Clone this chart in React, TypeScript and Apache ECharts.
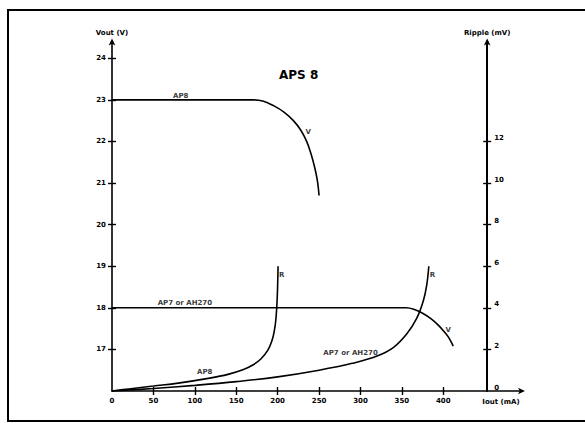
import React, { useEffect, useRef } from "react";
import * as echarts from "echarts";

// Axis tick values
const xTickValues = [0, 50, 100, 150, 200, 250, 300, 350, 400];
const voutTickValues = [17, 18, 19, 20, 21, 22, 23, 24];
const rippleTickValues = [0, 2, 4, 6, 8, 10, 12];

// Output voltage (V) vs output current (mA)
const ap8Vout: [number, number][] = [
  [0, 23], [170, 23], [182, 22.97], [195, 22.86], [208, 22.7], [219, 22.5],
  [228, 22.27], [235, 22.0], [240, 21.72], [245, 21.35], [248, 21.05], [250, 20.7],
];
const ap7Vout: [number, number][] = [
  [0, 18], [355, 18], [365, 17.96], [375, 17.87], [385, 17.74], [393, 17.6],
  [400, 17.45], [406, 17.3], [412, 17.08],
];

// Ripple (mV) vs output current (mA)
const ap8Ripple: [number, number][] = [
  [0, 0], [20, 0.1], [50, 0.24], [80, 0.38], [118, 0.62], [140, 0.8],
  [158, 1.02], [170, 1.25], [180, 1.55], [188, 1.95], [193, 2.4], [196, 2.9],
  [198, 3.5], [199.5, 4.5], [200.5, 6.0],
];
const ap7Ripple: [number, number][] = [
  [0, 0], [50, 0.12], [100, 0.27], [150, 0.45], [200, 0.68], [250, 1.0],
  [290, 1.33], [320, 1.68], [340, 2.1], [356, 2.75], [368, 3.5], [376, 4.35],
  [380, 5.1], [382.5, 6.0],
];

// Curve annotations (in mA / V coordinates)
const curveLabels = [
  { name: "AP8", value: [83, 23.1] },
  { name: "V", value: [237, 22.22] },
  { name: "AP7 or AH270", value: [88, 18.12] },
  { name: "V", value: [406, 17.47] },
  { name: "R", value: [205, 18.79] },
  { name: "R", value: [387, 18.79] },
  { name: "AP8", value: [112, 16.46] },
  { name: "AP7 or AH270", value: [288, 16.91] },
];

const FONT = "DejaVu Sans";

export default function App() {
  const ref = useRef<HTMLDivElement>(null);

  useEffect(() => {
    if (!ref.current) return;
    const chart = echarts.init(ref.current, undefined, { renderer: "svg" });

    const gTop = 41.6;
    const gHeight = 349.4;
    const gridMain = { left: 112, top: gTop, width: 410, height: gHeight };
    const gridRipple = { left: 112, top: gTop, width: 375.2, height: gHeight };

    const labelStyle = {
      fontFamily: FONT,
      fontSize: 7,
      fontWeight: "bold" as const,
      color: "#000",
    };

    const lineSeries = (name: string, data: [number, number][], xi: number, yi: number) => ({
      name,
      type: "line" as const,
      xAxisIndex: xi,
      yAxisIndex: yi,
      data,
      smooth: 0.4,
      showSymbol: false,
      symbol: "none",
      lineStyle: { color: "#000", width: 1.6 },
      z: 3,
    });

    const tickStyle = { color: "#000", width: 1.4 };

    chart.setOption({
      animation: false,
      backgroundColor: "#fff",
      title: {
        text: "APS 8",
        left: 279,
        top: 69,
        padding: 0,
        textStyle: { fontFamily: FONT, fontSize: 12, fontWeight: "bold", color: "#000" },
      },
      grid: [gridMain, gridRipple, gridMain, gridRipple],
      xAxis: [
        {
          gridIndex: 0,
          type: "value",
          min: 0,
          max: 495,
          interval: 50,
          axisLine: {
            show: true,
            onZero: false,
            lineStyle: { color: "#000", width: 1.6 },
            symbol: ["none", "arrow"],
            symbolSize: [5, 7],
            symbolOffset: [0, 3],
          },
          axisTick: { show: true, inside: false, length: 4, customValues: xTickValues.slice(1), lineStyle: tickStyle },
          axisLabel: { ...labelStyle, margin: 6, customValues: xTickValues },
          splitLine: { show: false },
        },
        { gridIndex: 1, type: "value", min: 0, max: 453, show: false, axisLine: { onZero: false } },
        {
          gridIndex: 2,
          type: "value",
          min: 0,
          max: 495,
          interval: 50,
          axisLine: { show: false, onZero: false },
          axisTick: { show: true, inside: true, length: 4, customValues: xTickValues.slice(1), lineStyle: tickStyle },
          axisLabel: { show: false },
          splitLine: { show: false },
        },
        { gridIndex: 3, type: "value", min: 0, max: 453, show: false, axisLine: { onZero: false } },
      ],
      yAxis: [
        {
          gridIndex: 0,
          type: "value",
          position: "left",
          min: 16,
          max: 24.4,
          interval: 1,
          name: "Vout (V)",
          nameLocation: "end",
          nameGap: 5,
          nameTextStyle: { ...labelStyle },
          axisLine: {
            show: true,
            onZero: false,
            lineStyle: { color: "#000", width: 1.6 },
            symbol: ["none", "arrow"],
            symbolSize: [5, 7],
            symbolOffset: [0, 3],
          },
          axisTick: { show: true, inside: false, length: 4, customValues: voutTickValues, lineStyle: tickStyle },
          axisLabel: { ...labelStyle, margin: 6, customValues: voutTickValues },
          splitLine: { show: false },
        },
        {
          gridIndex: 1,
          type: "value",
          position: "right",
          min: 0,
          max: 16.8,
          interval: 2,
          name: "Ripple (mV)",
          nameLocation: "end",
          nameGap: 5,
          nameTextStyle: { ...labelStyle },
          axisLine: {
            show: true,
            onZero: false,
            lineStyle: { color: "#000", width: 2 },
            symbol: ["none", "arrow"],
            symbolSize: [5, 7],
            symbolOffset: [0, 3],
          },
          axisTick: { show: true, inside: false, length: 4, customValues: rippleTickValues.slice(1), lineStyle: tickStyle },
          axisLabel: { ...labelStyle, margin: 7, customValues: rippleTickValues, verticalAlign: "bottom" },
          splitLine: { show: false },
        },
        {
          gridIndex: 2,
          type: "value",
          position: "left",
          min: 16,
          max: 24.4,
          interval: 1,
          axisLine: { show: false, onZero: false },
          axisTick: { show: true, inside: true, length: 4, customValues: voutTickValues, lineStyle: tickStyle },
          axisLabel: { show: false },
          splitLine: { show: false },
        },
        {
          gridIndex: 3,
          type: "value",
          position: "right",
          min: 0,
          max: 16.8,
          interval: 2,
          axisLine: { show: false, onZero: false },
          axisTick: { show: true, inside: true, length: 4, customValues: rippleTickValues.slice(1), lineStyle: tickStyle },
          axisLabel: { show: false },
          splitLine: { show: false },
        },
      ],
      series: [
        lineSeries("AP8 Vout", ap8Vout, 0, 0),
        lineSeries("AP7 or AH270 Vout", ap7Vout, 0, 0),
        lineSeries("AP8 Ripple", ap8Ripple, 1, 1),
        lineSeries("AP7 or AH270 Ripple", ap7Ripple, 1, 1),
        {
          name: "labels",
          type: "scatter",
          xAxisIndex: 0,
          yAxisIndex: 0,
          symbolSize: 1,
          itemStyle: { color: "rgba(0,0,0,0)" },
          data: curveLabels,
          label: {
            show: true,
            position: "inside",
            formatter: (p: any) => p.name,
            ...labelStyle,
          },
          z: 5,
        },
      ],
      graphic: [
        {
          type: "polyline",
          shape: { points: [[600, 10], [8, 10], [8, 421], [600, 421]] },
          style: { fill: "none", stroke: "#000", lineWidth: 2 },
          silent: true,
        },
        {
          type: "text",
          x: 501,
          y: 402,
          style: {
            text: "Iout (mA)",
            fill: "#000",
            font: `bold 7px "${FONT}"`,
            align: "center",
            verticalAlign: "middle",
          },
        },
      ],
    });

    return () => chart.dispose();
  }, []);

  return (
    <div
      ref={ref}
      style={{ position: "fixed", left: 0, top: 0, width: 585, height: 423, background: "#fff" }}
    />
  );
}
